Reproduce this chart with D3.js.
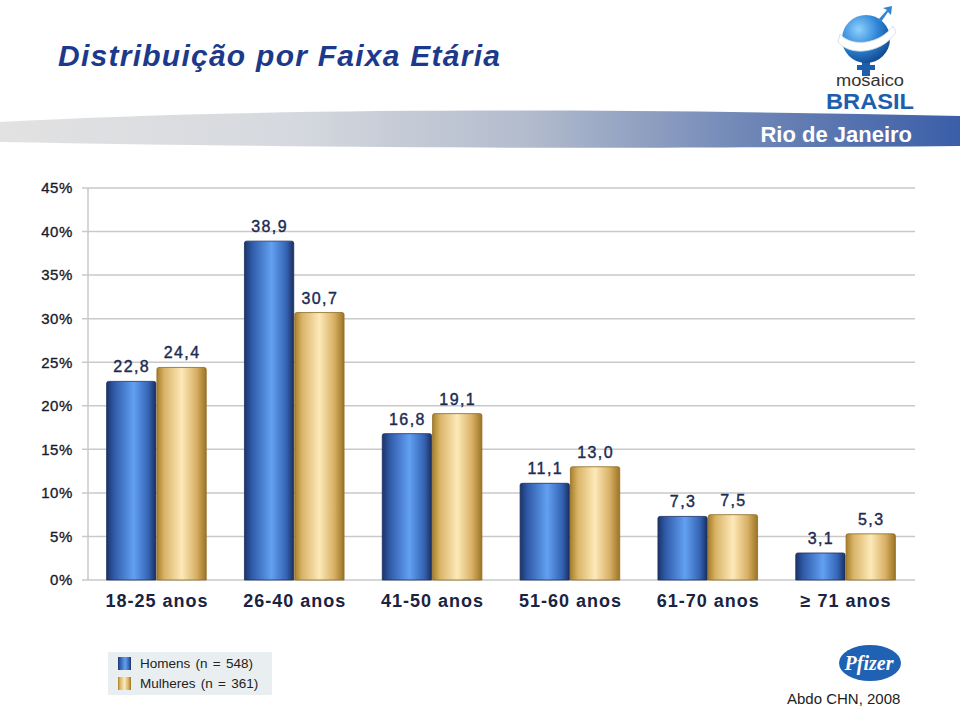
<!DOCTYPE html>
<html><head><meta charset="utf-8">
<script src="https://cdn.jsdelivr.net/npm/d3@7"></script>
<style>body{margin:0;background:#fff}svg{display:block}</style>
</head><body>
<svg id="c" width="960" height="707"></svg>
<script>
const categories = ["18-25 anos","26-40 anos","41-50 anos","51-60 anos","61-70 anos","\u2265 71 anos"];
const homens = [22.8, 38.9, 16.8, 11.1, 7.3, 3.1];
const mulheres = [24.4, 30.7, 19.1, 13.0, 7.5, 5.3];
const seriesNames = ["Homens (n = 548)", "Mulheres (n = 361)"];
const yTicks = [0,5,10,15,20,25,30,35,40,45];

const svg = d3.select("#c");
const defs = svg.append("defs");

function hgrad(id, stops){
  const g = defs.append("linearGradient").attr("id", id).attr("x1","0").attr("x2","1").attr("y1","0").attr("y2","0");
  stops.forEach(s => g.append("stop").attr("offset", s[0]).attr("stop-color", s[1]));
}
hgrad("gBlue", [[0,"#1b3468"],[0.15,"#2f5aa8"],[0.55,"#62a0f2"],[0.85,"#3564b4"],[1,"#1a2f60"]]);
hgrad("gGold", [[0,"#a8802a"],[0.15,"#d9b468"],[0.5,"#fde9b8"],[0.8,"#d8b066"],[1,"#9c7424"]]);
hgrad("gBand", [[0,"#e2e2e2"],[0.3,"#d6d9df"],[0.55,"#b3bccd"],[0.78,"#6f86b6"],[1,"#3a5ea8"]]);
const rg = defs.append("radialGradient").attr("id","gGlobe").attr("cx","0.35").attr("cy","0.3").attr("r","0.8");
rg.append("stop").attr("offset",0).attr("stop-color","#8fd0ff");
rg.append("stop").attr("offset",0.5).attr("stop-color","#2f86d6");
rg.append("stop").attr("offset",1).attr("stop-color","#0d3f86");

// header band
svg.append("path")
  .attr("d","M0,122 C250,108 600,108 960,116 L960,146 C700,148 450,150 0,142 Z")
  .attr("fill","url(#gBand)");
svg.append("text").attr("x",912).attr("y",142).attr("text-anchor","end")
  .attr("font-family","Liberation Sans Narrow, Arial Narrow, Liberation Sans, Arial")
  .attr("font-weight","bold").attr("font-size",22).attr("fill","#fff").text("Rio de Janeiro");

// title
svg.append("text").attr("x",58).attr("y",66)
  .attr("font-family","Liberation Sans Narrow, Arial Narrow, Liberation Sans, Arial")
  .attr("font-weight","bold").attr("font-style","italic").attr("font-size",30)
  .attr("textLength",442).attr("lengthAdjust","spacing")
  .attr("fill","#1c3a8c").text("Distribuição por Faixa Etária");

// logo
const lg = svg.append("g");
lg.append("rect").attr("x",862).attr("y",58).attr("width",8).attr("height",18).attr("fill","#1d5fae");
lg.append("rect").attr("x",857).attr("y",65).attr("width",18).attr("height",5).attr("fill","#1d5fae");
lg.append("circle").attr("cx",866).attr("cy",39).attr("r",24).attr("fill","url(#gGlobe)");
lg.append("path").attr("d","M840,34 C852,48 880,44 893,26 L896,32 C884,52 852,58 838,42 Z").attr("fill","#fff").attr("stroke","#d0d8e0").attr("stroke-width",0.8);
lg.append("path").attr("d","M878,20 L887,10 L883,8 L892,6 L891,15 L888,12 L881,22 Z").attr("fill","#2f86d6");
lg.append("text").attr("x",870).attr("y",86).attr("text-anchor","middle")
  .attr("font-family","Liberation Sans, Arial").attr("font-size",16)
  .attr("textLength",68).attr("lengthAdjust","spacingAndGlyphs").attr("fill","#333").text("mosaico");
lg.append("text").attr("x",870).attr("y",109).attr("text-anchor","middle")
  .attr("font-family","Liberation Sans, Arial").attr("font-weight","bold").attr("font-size",22)
  .attr("textLength",88).attr("lengthAdjust","spacingAndGlyphs").attr("fill","#1d5fae").text("BRASIL");

// chart
const x0 = d3.scaleBand().domain(categories).range([88, 915]).paddingInner(0.27).paddingOuter(0.135);
const x1 = d3.scaleBand().domain([0,1]).range([0, x0.bandwidth()]).padding(0);
const y = d3.scaleLinear().domain([0,45]).range([580,188]);

const grid = svg.append("g");
grid.selectAll("line").data(yTicks).join("line")
  .attr("x1",82).attr("x2",915).attr("y1",d=>y(d)).attr("y2",d=>y(d))
  .attr("stroke","#c9c9c9").attr("stroke-width",1.5);
svg.append("line").attr("x1",88).attr("x2",88).attr("y1",y(45)).attr("y2",y(0)).attr("stroke","#c9c9c9").attr("stroke-width",1.5);

const yAxis = d3.axisLeft(y).tickValues(yTicks).tickFormat(d=>d+"%").tickSize(0).tickPadding(15);
const ya = svg.append("g").attr("transform","translate(88,0)").call(yAxis);
ya.select(".domain").remove();
ya.selectAll("text").attr("font-family","Liberation Sans, Arial").attr("font-size",15)
  .attr("fill","#1a1a2a").attr("letter-spacing","0.6").attr("stroke","#1a1a2a").attr("stroke-width",0.35);

const data = categories.map((c,i)=>({c, v:[homens[i], mulheres[i]]}));
const fills = ["url(#gBlue)","url(#gGold)"];
const edges = ["#1a2f60","#8f6a20"];
const groups = svg.append("g").selectAll("g").data(data).join("g")
  .attr("transform", d=>`translate(${x0(d.c)},0)`);
groups.selectAll("path.bar").data(d=>d.v.map((v,k)=>({v,k}))).join("path")
  .attr("class","bar")
  .attr("d", d=>{
    const xa = x1(d.k), w = x1.bandwidth()-1, yt = y(d.v), yb = y(0), r=2;
    return `M${xa},${yb} L${xa},${yt+r} Q${xa},${yt} ${xa+r},${yt} L${xa+w-r},${yt} Q${xa+w},${yt} ${xa+w},${yt+r} L${xa+w},${yb} Z`;
  })
  .attr("fill", d=>fills[d.k]).attr("stroke", d=>edges[d.k]).attr("stroke-width",0.8);
groups.selectAll("text.val").data(d=>d.v.map((v,k)=>({v,k}))).join("text")
  .attr("class","val")
  .attr("x", d=>x1(d.k)+x1.bandwidth()/2).attr("y", d=>y(d.v)-9)
  .attr("text-anchor","middle").attr("font-family","Liberation Sans, Arial")
  .attr("font-size",16).attr("letter-spacing","1.4").attr("fill","#1c2b50")
  .attr("stroke","#1c2b50").attr("stroke-width",0.4)
  .text(d=>d.v.toFixed(1).replace(".",","));

svg.append("g").selectAll("text").data(categories).join("text")
  .attr("x", d=>x0(d)+x0.bandwidth()/2).attr("y",607).attr("text-anchor","middle")
  .attr("font-family","Liberation Sans, Arial").attr("font-weight","bold").attr("font-size",18)
  .attr("letter-spacing","1").attr("fill","#1a2340").text(d=>d);

// legend
const leg = svg.append("g");
leg.append("rect").attr("x",108).attr("y",652).attr("width",164).attr("height",43).attr("fill","#e9eef0");
const lfill = ["url(#gBlue)","url(#gGold)"];
seriesNames.forEach((s,i)=>{
  leg.append("rect").attr("x",118).attr("y",657+i*20).attr("width",13).attr("height",13).attr("fill",lfill[i]);
  leg.append("text").attr("x",140).attr("y",668+i*20).attr("font-family","Liberation Sans, Arial")
    .attr("font-size",13.5).attr("word-spacing","1.5").attr("fill","#222").text(s);
});

// pfizer logo
svg.append("ellipse").attr("cx",870).attr("cy",663).attr("rx",31).attr("ry",18).attr("fill","#1f62b4");
svg.append("text").attr("x",869).attr("y",670).attr("text-anchor","middle")
  .attr("font-family","Liberation Serif, Times New Roman").attr("font-weight","bold").attr("font-style","italic")
  .attr("font-size",20).attr("fill","#fff").text("Pfizer");
svg.append("text").attr("x",787).attr("y",704).attr("font-family","Liberation Sans, Arial")
  .attr("font-size",15).attr("fill","#222").text("Abdo CHN, 2008");
</script>
</body></html>
